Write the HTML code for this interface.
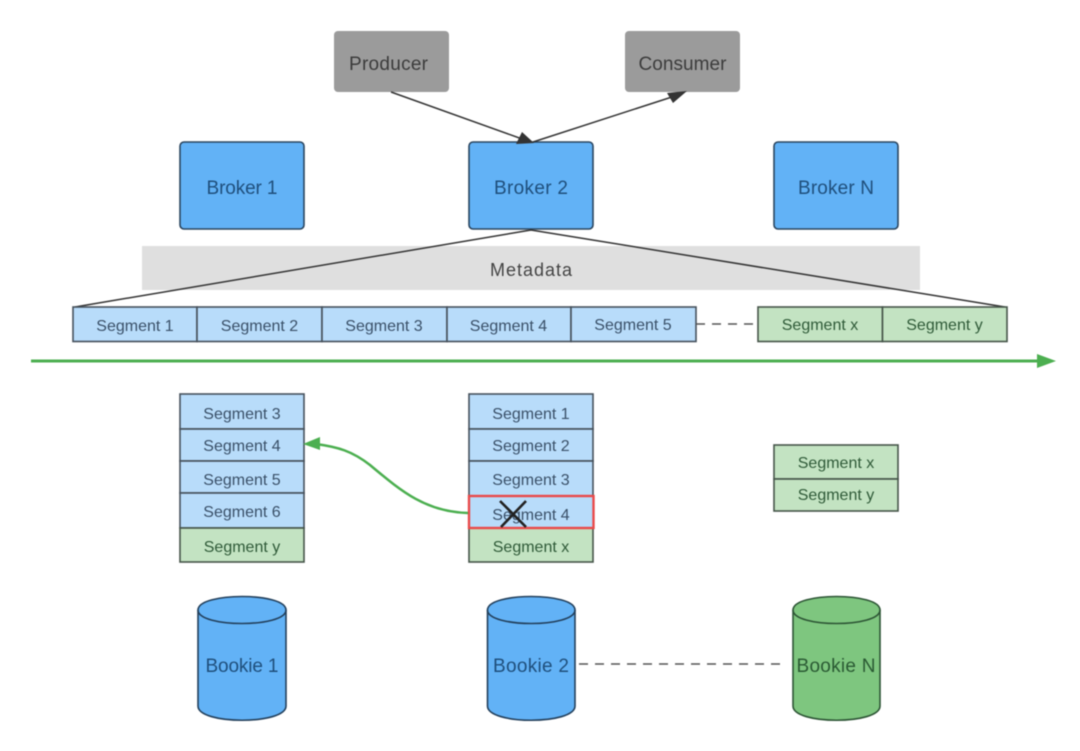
<!DOCTYPE html>
<html><head><meta charset="utf-8"><style>
html,body{margin:0;padding:0;background:#fff;width:1080px;height:751px;overflow:hidden}
svg{display:block;filter:blur(.4px)}
text{font-family:"Liberation Sans",sans-serif;text-anchor:middle}
.s text,text.s{font-size:16px;fill:#3a5068}
.b{font-size:19px;fill:#1f4f7c}
.g{fill:#2f5a38 !important}
.seg{fill:#b8dcfa;stroke:#46515c;stroke-width:1.600}
.grn{fill:#c3e3c2;stroke:#46554a;stroke-width:1.600}
.bk{fill:#62b2f6;stroke:#2b4660;stroke-width:1.600}
.cb{fill:#62b2f6;stroke:#23405c;stroke-width:1.600}
.cg{fill:#7ec67f;stroke:#2d5535;stroke-width:1.600}
</style></head><body>
<svg width="1080" height="751" viewBox="0 0 1080 751" xmlns="http://www.w3.org/2000/svg">
<rect width="1080" height="751" fill="#fff"/>

<!-- producer / consumer -->
<rect x="334" y="31" width="115" height="61" rx="4" fill="#9b9b9b"/>
<rect x="625" y="31" width="115" height="61" rx="4" fill="#9b9b9b"/>
<text x="388.500" y="70" font-size="19" fill="#3c3c3c" textLength="79">Producer</text>
<text x="682.500" y="70" font-size="19" fill="#3c3c3c" textLength="88">Consumer</text>

<!-- metadata -->
<rect x="142" y="246" width="778" height="44" fill="#dfdfdf"/>
<text x="531" y="276" font-size="18" fill="#444" textLength="82">Metadata</text>

<!-- brokers -->
<rect class="bk" x="180" y="142" width="124" height="87" rx="4"/>
<rect class="bk" x="469" y="142" width="124" height="87" rx="4"/>
<rect class="bk" x="774" y="142" width="124" height="87" rx="4"/>
<text class="b" x="242" y="194" textLength="71">Broker 1</text>
<text class="b" x="531" y="194" textLength="74">Broker 2</text>
<text class="b" x="836" y="194" textLength="76">Broker N</text>

<!-- top arrows -->
<line x1="391" y1="92" x2="525" y2="140" stroke="#333" stroke-width="1.500"/>
<polygon points="534,143 516,144 522,132" fill="#333"/>
<line x1="533" y1="142" x2="675" y2="96" stroke="#333" stroke-width="1.500"/>
<polygon points="687,91 673,103 667,93" fill="#333"/>

<!-- fan lines -->
<polyline points="75,307 531,230 1005,307" fill="none" stroke="#333" stroke-width="1.500"/>

<!-- horizontal segments -->
<g class="s">
<rect class="seg" x="73" y="307" width="124" height="34.500"/>
<rect class="seg" x="197" y="307" width="125" height="34.500"/>
<rect class="seg" x="322" y="307" width="125" height="34.500"/>
<rect class="seg" x="447" y="307" width="124" height="34.500"/>
<rect class="seg" x="571" y="307" width="125" height="34.500"/>
<rect class="grn" x="758" y="307" width="124.500" height="34.500"/>
<rect class="grn" x="882.500" y="307" width="124.500" height="34.500"/>
<text x="135" y="331">Segment 1</text>
<text x="259.500" y="331">Segment 2</text>
<text x="384" y="331">Segment 3</text>
<text x="508.500" y="331">Segment 4</text>
<text x="633" y="330">Segment 5</text>
<text class="g" x="820" y="330">Segment x</text>
<text class="g" x="944.500" y="330">Segment y</text>
</g>
<line x1="696" y1="324" x2="757" y2="324" stroke="#555" stroke-width="1.500" stroke-dasharray="9,7"/>

<!-- timeline -->
<line x1="31" y1="361" x2="1040" y2="361" stroke="#4caf50" stroke-width="3"/>
<polygon points="1056,361 1037,354 1037,368" fill="#4caf50"/>

<!-- left stack -->
<g class="s">
<rect class="seg" x="180" y="394" width="124" height="35"/>
<rect class="seg" x="180" y="429" width="124" height="32"/>
<rect class="seg" x="180" y="461" width="124" height="32"/>
<rect class="seg" x="180" y="493" width="124" height="35"/>
<rect class="grn" x="180" y="528" width="124" height="34"/>
<text x="242" y="419">Segment 3</text>
<text x="242" y="451">Segment 4</text>
<text x="242" y="485">Segment 5</text>
<text x="242" y="517">Segment 6</text>
<text class="g" x="242" y="552">Segment y</text>
</g>

<!-- middle stack -->
<g class="s">
<rect class="seg" x="469" y="394" width="124" height="35"/>
<rect class="seg" x="469" y="429" width="124" height="32"/>
<rect class="seg" x="469" y="461" width="124" height="35"/>
<rect class="seg" x="469" y="496" width="124" height="32" style="stroke:none"/>
<rect class="grn" x="469" y="528" width="124" height="34"/>
<rect x="469" y="496" width="124.500" height="32" fill="none" stroke="#ea4a4a" stroke-width="2.400"/>
<text x="531" y="419">Segment 1</text>
<text x="531" y="451">Segment 2</text>
<text x="531" y="485">Segment 3</text>
<text x="531" y="520">Segment 4</text>
<text class="g" x="531" y="552">Segment x</text>
</g>
<line x1="501" y1="527" x2="526" y2="501" stroke="#222" stroke-width="2.600"/>
<line x1="500" y1="501" x2="526" y2="527" stroke="#222" stroke-width="2.600"/>

<!-- right stack -->
<g class="s">
<rect class="grn" x="774" y="445" width="124" height="34"/>
<rect class="grn" x="774" y="479" width="124" height="32"/>
<text class="g" x="836" y="468">Segment x</text>
<text class="g" x="836" y="500">Segment y</text>
</g>

<!-- migration arrow -->
<path d="M468,513 C425,512 400,490 370,465 C352,451 338,447 316,444" fill="none" stroke="#4caf50" stroke-width="2.500"/>
<polygon points="303,444 320,437 320,450" fill="#4caf50"/>

<!-- bookies -->
<path class="cb" d="M198,610 C198,592 286,592 286,610 L286,706 C286,725 198,725 198,706 Z"/>
<path d="M198,610 C198,628 286,628 286,610" fill="none" stroke="#23405c" stroke-width="1.600"/>
<path class="cb" d="M487.500,610 C487.500,592 575,592 575,610 L575,706 C575,725 487.500,725 487.500,706 Z"/>
<path d="M487.500,610 C487.500,628 575,628 575,610" fill="none" stroke="#23405c" stroke-width="1.600"/>
<path class="cg" d="M793,610 C793,592 880,592 880,610 L880,706 C880,725 793,725 793,706 Z"/>
<path d="M793,610 C793,628 880,628 880,610" fill="none" stroke="#2d5535" stroke-width="1.600"/>
<text class="b" x="242" y="672" textLength="73">Bookie 1</text>
<text class="b" x="531" y="672" textLength="76">Bookie 2</text>
<text x="836" y="672" font-size="19" fill="#2a5a33" textLength="79">Bookie N</text>
<line x1="579" y1="664" x2="784" y2="664" stroke="#555" stroke-width="1.500" stroke-dasharray="9,7"/>
</svg>
</body></html>
